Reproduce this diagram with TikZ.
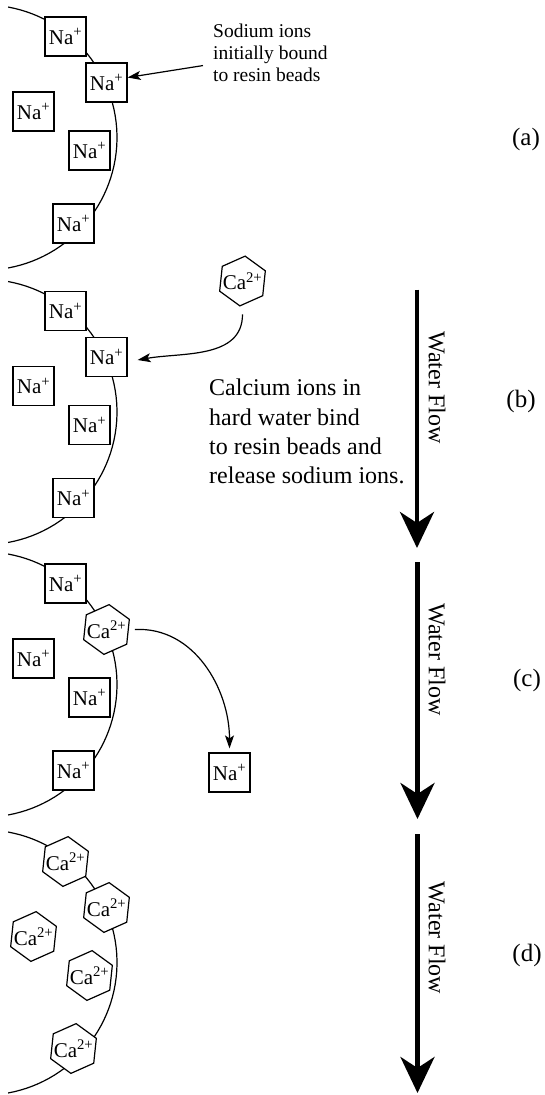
\documentclass[tikz,border=0pt]{standalone}
\usepackage{fontspec}
\setmainfont{Liberation Serif}
\usepackage{tikz}
\usetikzlibrary{shapes,arrows.meta}

\newcommand{\resinbead}{\draw[resin] plot[domain=79.7:-79.7,samples=60] ({-15.6+132.6*cos(\x)},{-137.5+132.6*sin(\x)});}
\newcommand{\caplus}{\makebox[0pt]{Ca\textsuperscript{2+}}}

\begin{document}
\begin{tikzpicture}[x=1pt,y=1pt,
	naion/.style={draw,fill=white,line width=1.2pt,minimum width=41pt,minimum height=39pt,inner sep=0pt,font=\fontsize{21}{24}\selectfont},
	caion/.style={regular polygon,regular polygon sides=6,shape border rotate=24,draw,fill=white,line width=1.2pt,minimum size=50pt,inner sep=0pt,font=\fontsize{21}{24}\selectfont},
	resin/.style={line width=1.2pt},
	thinarrow/.style={line width=1.2pt,-{Stealth[length=13pt,width=9pt,inset=3pt]}},
	flowarrow/.style={line width=4.5pt,-{Stealth[length=36pt,width=34pt,inset=11pt]}},
	flowtext/.style={rotate=-90,inner sep=0pt,font=\fontsize{24}{28}\selectfont},
	panel/.style={inner sep=0pt,font=\fontsize{25}{30}\selectfont}]
\useasboundingbox (0,0) rectangle (545,-1095);

% (a)
\resinbead
\node [naion] (naA1) at (65.5,-36.5) {Na\textsuperscript{+}};
\node [naion] (naA2) at (106.5,-82.5) {Na\textsuperscript{+}};
\node [naion] (naA3) at (33.5,-111.5) {Na\textsuperscript{+}};
\node [naion] (naA4) at (89.5,-150.5) {Na\textsuperscript{+}};
\node [naion] (naA5) at (73.5,-223.5) {Na\textsuperscript{+}};
\node [anchor=north west,inner sep=0pt,align=left,font=\fontsize{19.5}{22}\selectfont] (sodiumtxt) at (213,-24) {Sodium ions\\initially bound\\to resin beads};
\draw [thinarrow] ([shift={(-10pt,-12.5pt)}]sodiumtxt.west) -- ([yshift=5pt]naA2.east);
\node [panel] (labA) at (526,-139) {(a)};

% (b)
\begin{scope}[yshift=-274.5pt]
\resinbead
\node [naion] (naB1) at (65.5,-36.5) {Na\textsuperscript{+}};
\node [naion] (naB2) at (106.5,-82.5) {Na\textsuperscript{+}};
\node [naion] (naB3) at (33.5,-111.5) {Na\textsuperscript{+}};
\node [naion] (naB4) at (89.5,-150.5) {Na\textsuperscript{+}};
\node [naion] (naB5) at (73.5,-223.5) {Na\textsuperscript{+}};
\node [caion] (caB) at (242.5,-6.5) {\caplus};
\draw [thinarrow] ([yshift=-9pt]caB.south) to[out=-90,in=10] ([shift={(10pt,-3pt)}]naB2.east);
\node [anchor=north west,inner sep=0pt,align=left,font=\fontsize{24}{29.3}\selectfont] (calciumtxt) at (209,-104.5) {Calcium ions in\\hard water bind\\to resin beads and\\release sodium ions.};
\coordinate (flowBtop) at (417,-15);
\coordinate (flowBend) at (417,-273.5);
\draw [flowarrow] (flowBtop) -- (flowBend);
\node [flowtext] (flowBtxt) at (437,-113) {Water Flow};
\node [panel] (labB) at (521,-126.5) {(b)};
\end{scope}

% (c)
\begin{scope}[yshift=-547pt]
\resinbead
\node [naion] (naC1) at (65.5,-36.5) {Na\textsuperscript{+}};
\node [caion] (caC) at (106.5,-82.5) {\caplus};
\node [naion] (naC3) at (33.5,-111.5) {Na\textsuperscript{+}};
\node [naion] (naC4) at (89.5,-150.5) {Na\textsuperscript{+}};
\node [naion] (naC5) at (73.5,-223.5) {Na\textsuperscript{+}};
\node [naion] (naCfree) at (229.5,-225.5) {Na\textsuperscript{+}};
\draw [thinarrow] ([xshift=6pt]caC.east) to[out=3,in=90] ([yshift=4pt]naCfree.north);
\coordinate (flowCtop) at (417.5,-15);
\coordinate (flowCend) at (417.5,-272);
\draw [flowarrow] (flowCtop) -- (flowCend);
\node [flowtext] (flowCtxt) at (437,-112.5) {Water Flow};
\node [panel] (labC) at (527,-133) {(c)};
\end{scope}

% (d)
\begin{scope}[yshift=-825pt]
\resinbead
\node [caion] (caD1) at (65.5,-36.5) {\caplus};
\node [caion] (caD2) at (106.5,-82.5) {\caplus};
\node [caion] (caD3) at (33.5,-111.5) {\caplus};
\node [caion] (caD4) at (89.5,-150.5) {\caplus};
\node [caion] (caD5) at (73.5,-223.5) {\caplus};
\coordinate (flowDtop) at (417.5,-9);
\coordinate (flowDend) at (417.5,-268);
\draw [flowarrow] (flowDtop) -- (flowDend);
\node [flowtext] (flowDtxt) at (437,-113) {Water Flow};
\node [panel] (labD) at (527,-130) {(d)};
\end{scope}
\end{tikzpicture}
\end{document}
